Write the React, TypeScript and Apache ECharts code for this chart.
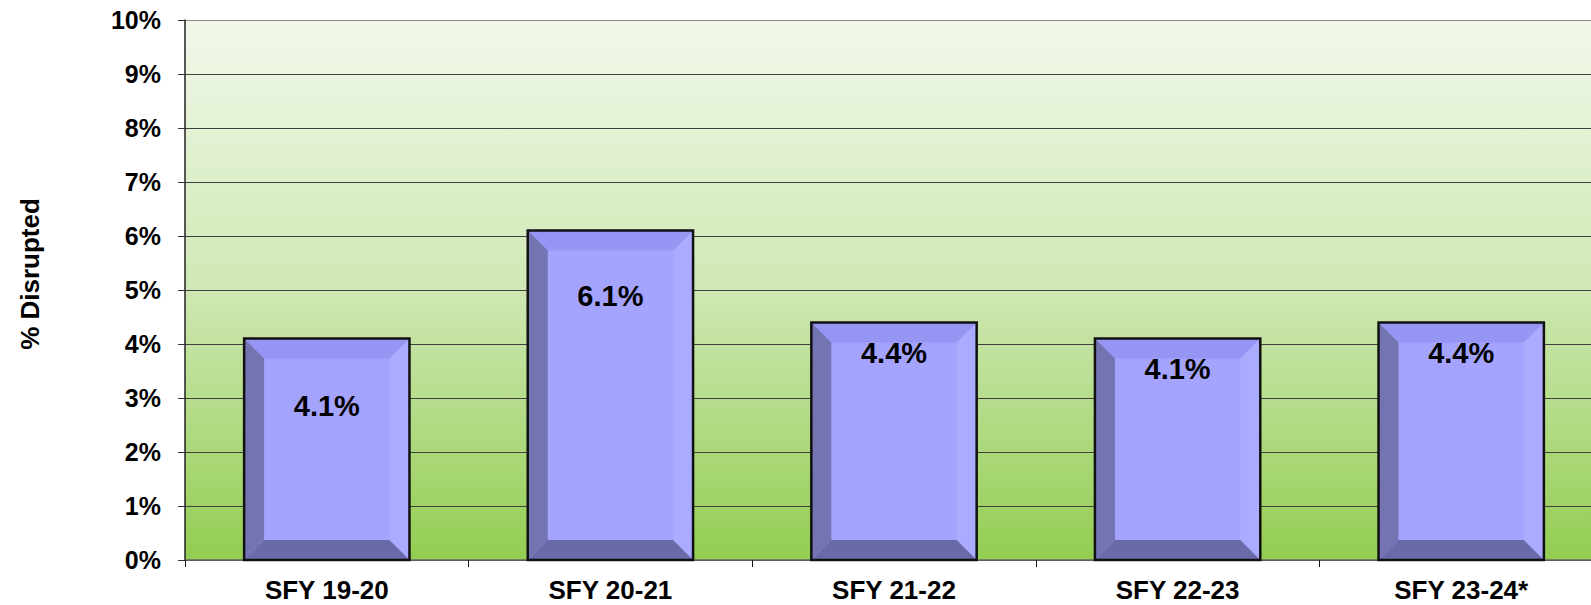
import React, { useEffect, useRef } from "react";
import * as echarts from "echarts";

const categories = ["SFY 19-20", "SFY 20-21", "SFY 21-22", "SFY 22-23", "SFY 23-24*"];
const values = [4.1, 6.1, 4.4, 4.1, 4.4];
const yTicks = [0, 1, 2, 3, 4, 5, 6, 7, 8, 9, 10];
const yAxisTitle = "% Disrupted";

// label distance below bar top (style only)
const labelOffsets = [67, 65, 31, 30, 31];

const FONT = "'Liberation Sans', Arial, sans-serif";

export default function App() {
  const ref = useRef<HTMLDivElement>(null);
  useEffect(() => {
    if (!ref.current) return;
    const chart = echarts.init(ref.current, undefined, { renderer: "svg" });
    const data = categories.map((c, i) => [i, values[i]]);
    const option: any = {
      animation: false,
      grid: {
        left: 185,
        right: 0,
        top: 20,
        bottom: 45,
        show: true,
        borderWidth: 0,
        backgroundColor: new echarts.graphic.LinearGradient(0, 0, 0, 1, [
          { offset: 0, color: "#f1f8ea" },
          { offset: 0.5, color: "#cfe8b4" },
          { offset: 1, color: "#93cd52" },
        ]),
      },
      xAxis: {
        type: "category",
        data: categories,
        axisLine: { show: true, lineStyle: { color: "#666", width: 1.5 } },
        axisTick: { show: true, length: 7, lineStyle: { color: "#111" } },
        axisLabel: {
          margin: 17,
          fontFamily: FONT,
          fontWeight: "bold",
          fontSize: 26,
          color: "#000",
        },
      },
      yAxis: {
        type: "value",
        min: 0,
        max: 10,
        interval: 1,
        axisLine: { show: true, lineStyle: { color: "#222", width: 1.5 } },
        axisTick: { show: true, length: 7, lineStyle: { color: "#333" } },
        axisLabel: {
          margin: 24,
          fontFamily: FONT,
          fontWeight: "bold",
          fontSize: 25,
          color: "#000",
          formatter: (v: number) => (yTicks.includes(v) ? `${v}%` : ""),
        },
        splitLine: {
          show: true,
          lineStyle: {
            color: [
              "#404040", "#404040", "#404040", "#404040", "#404040",
              "#404040", "#404040", "#404040", "#404040", "#404040", "#8a8a8a",
            ],
            width: 1,
          },
        },
      },
      graphic: [
        {
          type: "text",
          x: 30,
          y: 274,
          rotation: Math.PI / 2,
          style: {
            text: yAxisTitle,
            fontFamily: FONT,
            fontWeight: "bold",
            fontSize: 26,
            fill: "#000",
            textAlign: "center",
            textVerticalAlign: "middle",
          },
        },
      ],
      series: [
        {
          type: "custom",
          data,
          renderItem: (params: any, api: any) => {
            const idx = api.value(0);
            const v = api.value(1);
            const top = api.coord([idx, v]);
            const base = api.coord([idx, 0]);
            const bw = api.size([1, 0])[0] * 0.583;
            const x0 = top[0] - bw / 2;
            const x1 = top[0] + bw / 2;
            const y0 = top[1];
            const y1 = base[1];
            const d = 20;
            return {
              type: "group",
              children: [
                {
                  type: "rect",
                  shape: { x: x0, y: y0, width: x1 - x0, height: y1 - y0 },
                  style: { fill: "#a4a4ff" },
                },
                {
                  type: "polygon",
                  shape: { points: [[x0, y0], [x1, y0], [x1 - d, y0 + d], [x0 + d, y0 + d]] },
                  style: { fill: "#9595f4" },
                },
                {
                  type: "polygon",
                  shape: { points: [[x0, y0], [x0 + d, y0 + d], [x0 + d, y1 - d], [x0, y1]] },
                  style: { fill: "#7474b2" },
                },
                {
                  type: "polygon",
                  shape: { points: [[x1, y0], [x1, y1], [x1 - d, y1 - d], [x1 - d, y0 + d]] },
                  style: { fill: "#ababff" },
                },
                {
                  type: "polygon",
                  shape: { points: [[x0, y1], [x0 + d, y1 - d], [x1 - d, y1 - d], [x1, y1]] },
                  style: { fill: "#6a6aa9" },
                },
                {
                  type: "rect",
                  shape: { x: x0, y: y0, width: x1 - x0, height: y1 - y0 },
                  style: { fill: "none", stroke: "#111", lineWidth: 2.5 },
                },
                {
                  type: "text",
                  x: top[0],
                  y: y0 + labelOffsets[params.dataIndex],
                  style: {
                    text: `${v.toFixed(1)}%`,
                    fontFamily: FONT,
                    fontWeight: "bold",
                    fontSize: 29,
                    fill: "#000",
                    textAlign: "center",
                    textVerticalAlign: "middle",
                  },
                },
              ],
            };
          },
        },
      ],
    };
    chart.setOption(option);
    return () => chart.dispose();
  }, []);
  return (
    <div
      style={{
        position: "absolute",
        left: 0,
        top: 0,
        width: 1591,
        height: 605,
        overflow: "hidden",
        background: "#fff",
      }}
    >
      <div ref={ref} style={{ width: 1603, height: 605 }} />
    </div>
  );
}
